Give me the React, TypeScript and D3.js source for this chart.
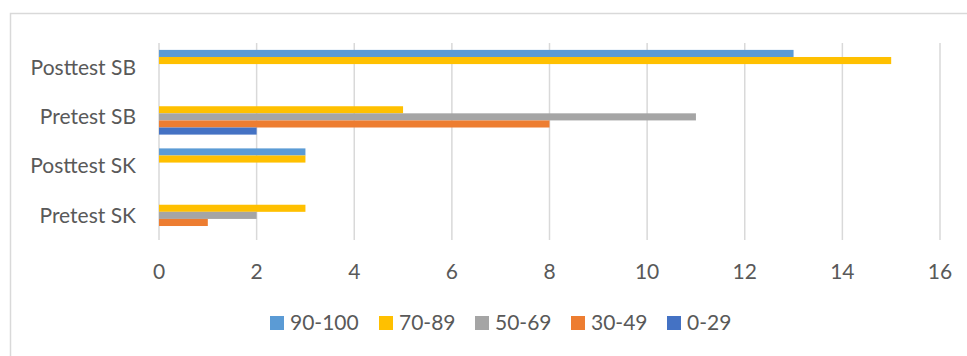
import React from 'react';
import * as d3 from 'd3';

const WIDTH = 967;
const HEIGHT = 356;

const categories = ['Posttest SB', 'Pretest SB', 'Posttest SK', 'Pretest SK'];
const seriesNames = ['90-100', '70-89', '50-69', '30-49', '0-29'];
const seriesColors = ['#5B9BD5', '#FFC000', '#A5A5A5', '#ED7D31', '#4472C4'];

// one array per series, in category order
const s90to100 = [13, 0, 3, 0];
const s70to89 = [15, 5, 3, 3];
const s50to69 = [0, 11, 0, 2];
const s30to49 = [0, 8, 0, 1];
const s0to29 = [0, 2, 0, 0];
const seriesValues = [s90to100, s70to89, s50to69, s30to49, s0to29];

const xTicks = [0, 2, 4, 6, 8, 10, 12, 14, 16];

const FONT = 'Lato, "Open Sans", sans-serif';
const TEXT_COLOR = '#595959';
const FONT_SIZE = 21;

const App: React.FC = () => {
  const x = d3.scaleLinear().domain([0, 16]).range([159, 940]);
  const y = d3.scaleBand<string>().domain(categories).range([43, 240]).paddingInner(0.28).paddingOuter(0.14);
  const inner = d3.scaleBand<string>().domain(seriesNames).range([0, y.bandwidth()]);

  const legendX = [270, 379, 475, 571, 667];

  return (
    <div style={{ position: 'absolute', left: 0, top: 0 }}>
      <svg width={WIDTH} height={HEIGHT} style={{ display: 'block', background: '#fff' }}>
        <rect x={10.5} y={13.5} width={WIDTH} height={HEIGHT} fill="#fff" stroke="#d9d9d9" strokeWidth={1.5} />

        {xTicks.map(t => (
          <line key={`g${t}`} x1={x(t)} x2={x(t)} y1={43} y2={240} stroke="#d9d9d9" strokeWidth={1.5} />
        ))}

        {categories.map((cat, ci) => (
          <g key={cat}>
            {seriesNames.map((name, si) => {
              const v = seriesValues[si][ci];
              if (!v) return null;
              return (
                <rect
                  key={name}
                  x={x(0)}
                  y={(y(cat) ?? 0) + (inner(name) ?? 0)}
                  width={x(v) - x(0)}
                  height={inner.bandwidth()}
                  fill={seriesColors[si]}
                />
              );
            })}
            <text
              x={136}
              y={(y(cat) ?? 0) + y.bandwidth() / 2}
              dy="0.35em"
              textAnchor="end"
              fontFamily={FONT}
              fontSize={FONT_SIZE}
              fill={TEXT_COLOR}
            >
              {cat}
            </text>
          </g>
        ))}

        {xTicks.map(t => (
          <text key={`t${t}`} x={x(t)} y={272} dy="0.35em" textAnchor="middle" fontFamily={FONT} fontSize={FONT_SIZE} fill={TEXT_COLOR}>
            {t}
          </text>
        ))}

        {seriesNames.map((name, i) => (
          <g key={`l${name}`} transform={`translate(${legendX[i]},323)`}>
            <rect x={0} y={-7} width={14} height={14} fill={seriesColors[i]} />
            <text x={20} y={0} dy="0.35em" fontFamily={FONT} fontSize={FONT_SIZE} fill={TEXT_COLOR}>
              {name}
            </text>
          </g>
        ))}
      </svg>
    </div>
  );
};

export default App;
